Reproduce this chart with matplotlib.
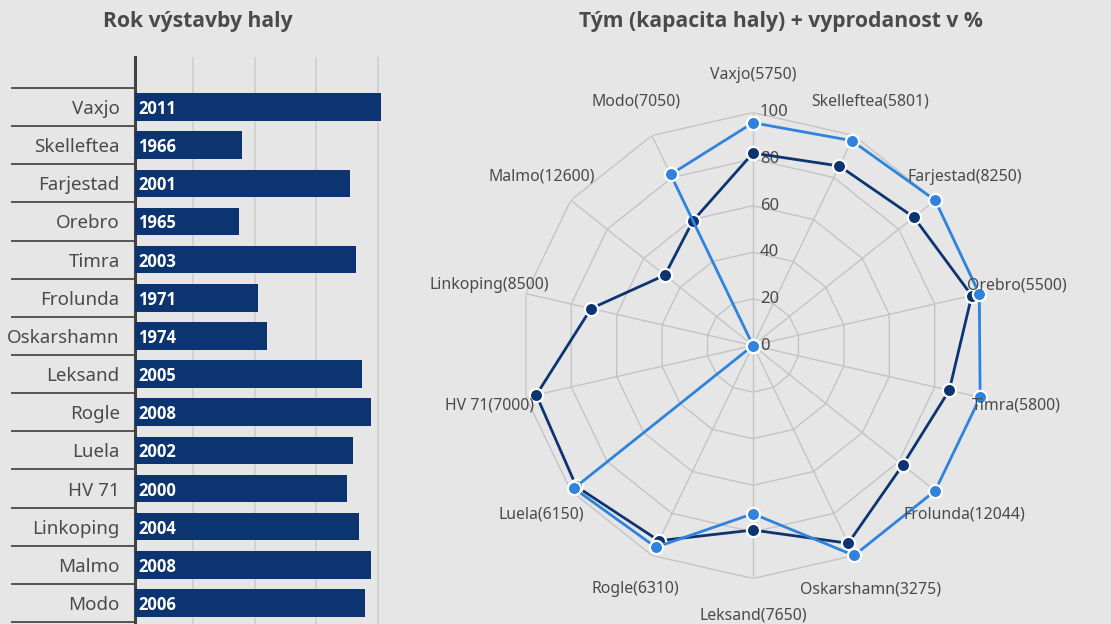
import numpy as np
import matplotlib
matplotlib.use("Agg")
import matplotlib.pyplot as plt
import matplotlib.transforms as mtransforms

# Left panel: year each arena was built
teams = ["Vaxjo", "Skelleftea", "Farjestad", "Orebro", "Timra", "Frolunda", "Oskarshamn",
         "Leksand", "Rogle", "Luela", "HV 71", "Linkoping", "Malmo", "Modo"]
years = [2011, 1966, 2001, 1965, 2003, 1971, 1974, 2005, 2008, 2002, 2000, 2004, 2008, 2006]

# Right panel: arena capacity + sell-out % (two series)
capacity = [5750, 5801, 8250, 5500, 5800, 12044, 3275, 7650, 6310, 6150, 7000, 8500, 12600, 7050]
sellout_dark = [82.6, 85.5, 88.3, 96.3, 86.4, 82.2, 94.2, 79.2, 93.0, 97.0, 95.4, 71.3, 48.4, 59.4]
sellout_light = [95.6, 97.6, 100, 99.6, 100, 100, 100, 72.2, 96.1, 98.3, 0, 0, 0, 81.5]
r_ticks = [0, 20, 40, 60, 80, 100]

BG = "#e6e6e6"
DARK = "#0b3471"
LIGHT = "#2f83dd"
TXT = "#4a4a4a"
GRID = "#c4c4c4"

W, H = 1111, 624
fig = plt.figure(figsize=(W / 100, H / 100), dpi=100, facecolor=BG)

# ---------------- bar chart ----------------
ax = fig.add_axes([135 / W, 0, 264 / W, (624 - 57) / H])
ax.set_facecolor(BG)
y = np.arange(len(teams))
ax.barh(y, [v - 1931 for v in years], left=1931, height=0.72, color=DARK, zorder=3)
for yi, v in zip(y, years):
    ax.text(1932.0, yi, str(v), color="white", fontsize=12, fontweight="bold",
            family="Open Sans", va="center_baseline", ha="left", zorder=4)
ax.set_xlim(1931, 2017)
ax.set_ylim(13.55, -1.31)
ax.set_xticks([1950, 1970, 1990, 2010])
ax.xaxis.grid(True, color="#cfcfcf", lw=1.2, zorder=0)
ax.tick_params(axis="x", length=0, labelbottom=False)
ax.set_yticks(y)
ax.set_yticklabels(teams, family="Noto Sans", fontsize=13.5, color=TXT)
ax.set_yticks(np.arange(-0.5, len(teams) + 0.5, 1), minor=True)
ax.tick_params(axis="y", which="major", length=0, pad=11)
ax.tick_params(axis="y", which="minor", length=89, width=1.4, color="#555555", direction="out")
for s in ["top", "right", "bottom"]:
    ax.spines[s].set_visible(False)
ax.spines["left"].set_color("#444444")
ax.spines["left"].set_linewidth(2.2)
fig.text(198 / W, 1 - 21 / H, "Rok výstavby haly", ha="center", va="center",
         fontsize=15.2, fontweight="bold", family="Open Sans", color=TXT)

# ---------------- radar chart ----------------
R = 233
cx, cy = 753, 345.5
pax = fig.add_axes([(cx - R) / W, (H - cy - R) / H, 2 * R / W, 2 * R / H], projection="polar")
pax.set_facecolor(BG)
pax.patch.set_alpha(0)
pax.set_theta_zero_location("N")
pax.set_theta_direction(-1)
pax.set_ylim(0, 100)
pax.grid(False)
pax.spines["polar"].set_visible(False)
pax.set_xticks([])
pax.set_yticks([])

n = len(teams)
theta = np.arange(n) * 2 * np.pi / n
theta_closed = np.append(theta, theta[0])
for rv in r_ticks[1:]:
    pax.plot(theta_closed, [rv] * (n + 1), color=GRID, lw=1, zorder=1)
for t in theta:
    pax.plot([t, t], [0, 100], color=GRID, lw=1, zorder=1)

for vals, col in [(sellout_dark, DARK), (sellout_light, LIGHT)]:
    v = np.append(vals, vals[0])
    pax.plot(theta_closed, v, color=col, lw=2, zorder=3, clip_on=False,
             marker="o", markersize=9.5, markerfacecolor=col,
             markeredgecolor="white", markeredgewidth=1.6)

offset = mtransforms.offset_copy(pax.transData, fig=fig, x=5, y=0, units="points")
for rv in r_ticks:
    pax.text(0, rv, str(rv), transform=offset, ha="left", va="center",
             fontsize=12, family="Noto Sans", color=TXT, zorder=2)

for t, name, cap in zip(theta, teams, capacity):
    pax.text(t, 116, f"{name}({cap})", ha="center", va="center",
             fontsize=11.4, family="Noto Sans", color=TXT, zorder=5)

fig.text(781 / W, 1 - 21 / H, "Tým (kapacita haly) + vyprodanost v %", ha="center",
         va="center", fontsize=15.2, fontweight="bold", family="Open Sans", color=TXT)

fig.savefig("out.png", dpi=100, facecolor=BG)
